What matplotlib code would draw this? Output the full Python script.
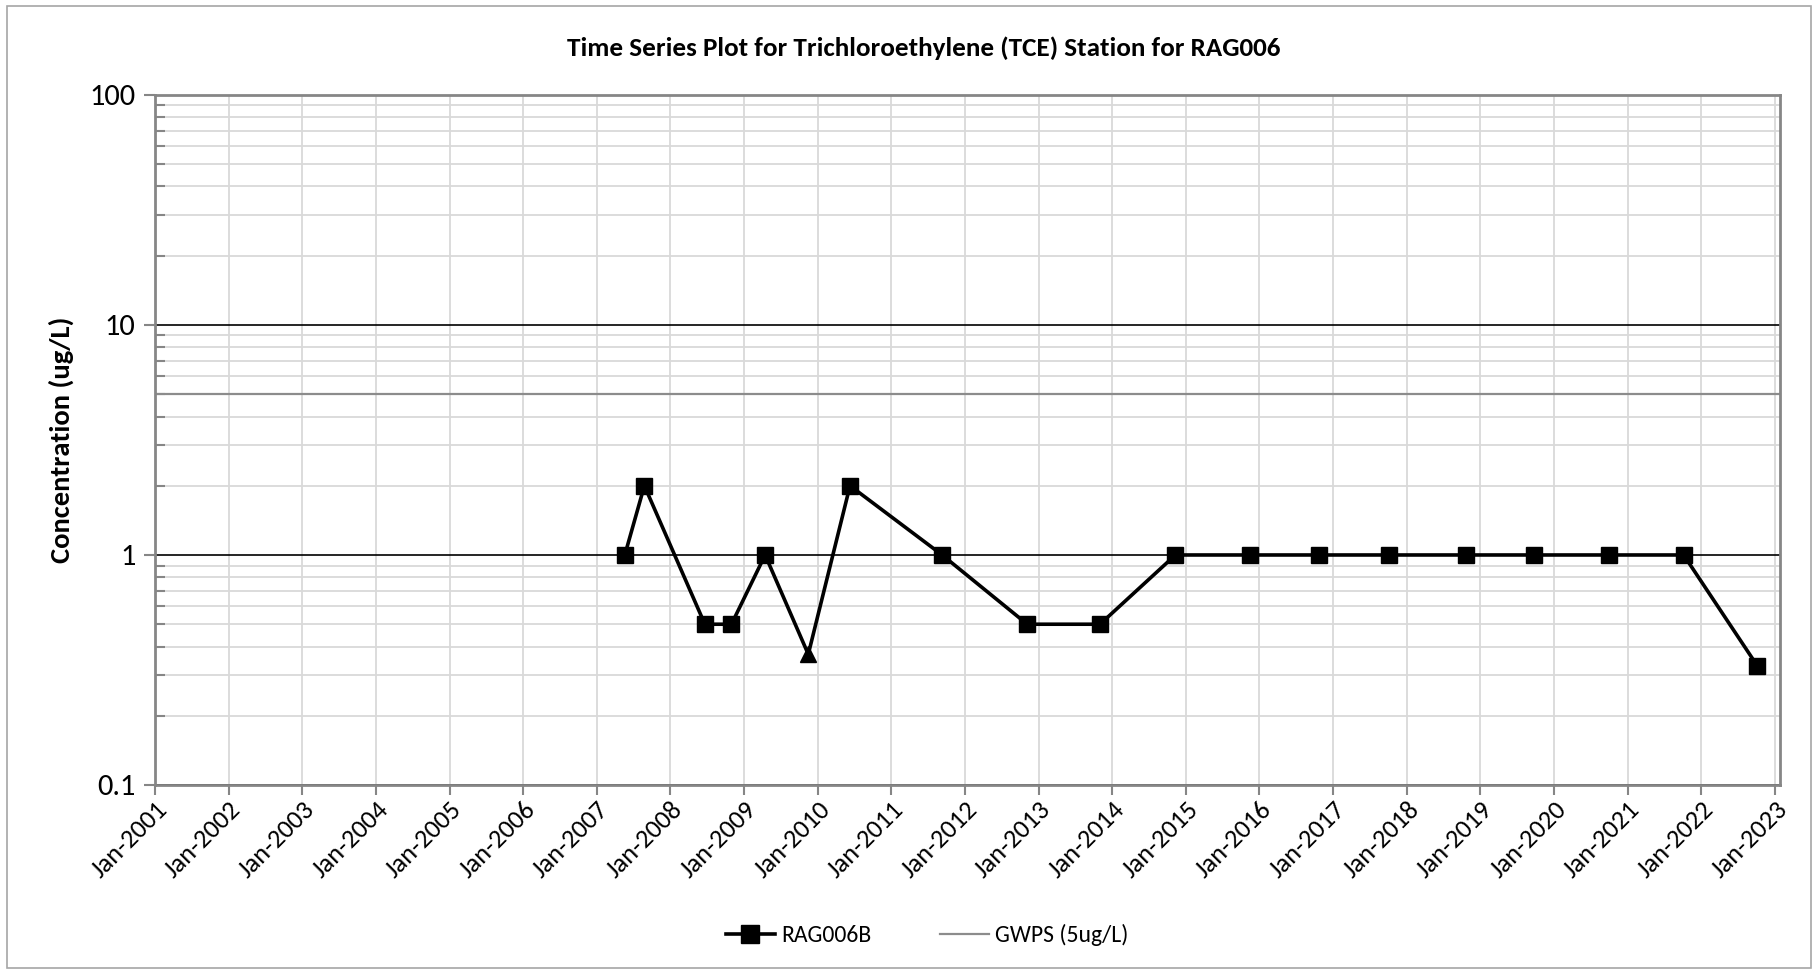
import matplotlib
matplotlib.use("Agg")
import matplotlib.pyplot as plt
import matplotlib.dates as mdates
from matplotlib.lines import Line2D
from matplotlib.patches import Rectangle
from matplotlib.ticker import LogLocator, FixedLocator, NullFormatter
import numpy as np
import pandas as pd

plt.rcParams['font.family'] = ['Carlito', 'Lato', 'DejaVu Sans']

# sample dates and TCE results for RAG006B
sample_dates = ["2007-05-20", "2007-08-25", "2008-06-20", "2008-10-30", "2009-04-15",
                "2009-11-15", "2010-06-10", "2011-09-10", "2012-11-05", "2013-11-01",
                "2014-11-10", "2015-11-15", "2016-10-20", "2017-10-05", "2018-10-20",
                "2019-09-25", "2020-10-01", "2021-10-05", "2022-10-05"]
tce = [1, 2, 0.5, 0.5, 1, 0.37, 2, 1, 0.5, 0.5, 1, 1, 1, 1, 1, 1, 1, 1, 0.33]
# point drawn with a triangle instead of a square
triangle_idx = [5]
gwps = 5
title = "Time Series Plot for Trichloroethylene (TCE) Station for RAG006"

dates = pd.to_datetime(sample_dates)
years = pd.date_range("2001-01-01", "2023-01-01", freq="YS")

fig = plt.figure(figsize=(18.18, 9.72), dpi=100)
fig.patches.append(Rectangle((0.004, 0.004), 0.992, 0.99, transform=fig.transFigure,
                             fill=False, edgecolor="#a6a6a6", linewidth=1.2))
ax = fig.add_axes([0.0853, 0.1924, 0.8937, 0.7099])

ax.set_yscale("log")
ax.set_ylim(0.1, 100)
ax.set_xlim(pd.Timestamp("2001-01-01"), pd.Timestamp("2023-01-25"))

# grid
ax.xaxis.set_major_locator(FixedLocator(mdates.date2num(years)))
ax.xaxis.set_major_formatter(mdates.DateFormatter("%b-%Y"))
ax.yaxis.set_major_locator(LogLocator(base=10, numticks=10))
ax.yaxis.set_minor_locator(LogLocator(base=10, subs=np.arange(2, 10), numticks=20))
ax.yaxis.set_minor_formatter(NullFormatter())
ax.yaxis.set_major_formatter(plt.FuncFormatter(lambda v, p: f"{v:g}"))
ax.grid(axis="x", which="major", color="#d9d9d9", linewidth=1.3)
ax.grid(axis="y", which="minor", color="#d9d9d9", linewidth=1.3)
ax.grid(axis="y", which="major", color="black", linewidth=1.2)
ax.set_axisbelow(True)

ax.axhline(gwps, color="#8c8c8c", linewidth=1.6, zorder=2)

ax.plot(dates, tce, color="black", linewidth=2.6, zorder=3)
sq = [i for i in range(len(tce)) if i not in triangle_idx]
ax.plot(dates[sq], [tce[i] for i in sq], linestyle="none", marker="s",
        markersize=12, color="black", zorder=4)
ax.plot(dates[triangle_idx], [tce[i] for i in triangle_idx], linestyle="none",
        marker="^", markersize=12, color="black", zorder=4)

for s in ax.spines.values():
    s.set_color("#868686")
    s.set_linewidth(2)

ax.tick_params(axis="x", which="major", direction="out", length=7, width=1.5,
               color="#868686", labelsize=19, pad=2)
ax.tick_params(axis="y", which="major", direction="out", length=8, width=1.5,
               color="#868686", labelsize=22, pad=6)
ax.tick_params(axis="y", which="minor", direction="in", length=7, width=1.5,
               color="#868686")
for lab in ax.get_xticklabels():
    lab.set_rotation(45)
    lab.set_ha("right")
    lab.set_rotation_mode("anchor")

ax.set_ylabel("Concentration (ug/L)", fontsize=20.5, fontweight="bold")
ax.yaxis.set_label_coords(-0.05, 0.5)
fig.text(0.508, 0.950, title, ha="center", va="center", fontsize=19.5, fontweight="bold")

handles = [Line2D([], [], color="black", linewidth=2.6, marker="s", markersize=13),
           Line2D([], [], color="#8c8c8c", linewidth=1.6)]
fig.legend(handles, ["RAG006B", "GWPS (5ug/L)"], loc="center", bbox_to_anchor=(0.510, 0.038),
           ncol=2, frameon=False, fontsize=17, handlelength=2.1, columnspacing=2.9,
           handletextpad=0.25)

fig.savefig("out.png", dpi=100)
